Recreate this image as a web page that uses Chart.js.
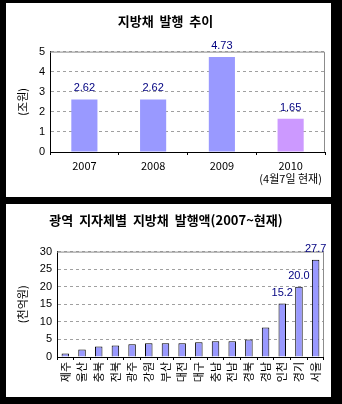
<!DOCTYPE html>
<html>
<head>
<meta charset="utf-8">
<script src="https://cdn.jsdelivr.net/npm/chart.js@4"></script>
<style>
  html, body { margin: 0; padding: 0; background: #000; }
  body { width: 342px; height: 404px; position: relative; overflow: hidden; }
  .panel { position: absolute; background: #fff; }
  #p1 { left: 6px; top: 3px; width: 325px; height: 194px; }
  #p2 { left: 6px; top: 204px; width: 325px; height: 193px; }
</style>
</head>
<body>
<div class="panel" id="p1"><canvas id="c1" width="325" height="194"></canvas></div>
<div class="panel" id="p2"><canvas id="c2" width="325" height="193"></canvas></div>
<script>
// ----- 데이터 -----
const years = ['2007', '2008', '2009', ['2010', '(4월7일 현재)']];
const yearValues = [2.62, 2.62, 4.73, 1.65];
const yearTicks = [0, 1, 2, 3, 4, 5];

const regions = ['제주', '울산', '충북', '전북', '광주', '강원', '부산', '대전',
                 '대구', '충남', '전남', '경북', '경남', '인천', '경기', '서울'];
const regionValues = [1.0, 2.1, 3.0, 3.3, 3.6, 3.9, 3.9, 3.9,
                      4.2, 4.5, 4.5, 5.0, 8.4, 15.2, 20.0, 27.7];
const regionTicks = [0, 5, 10, 15, 20, 25, 30];
const labeledRegions = ['인천', '경기', '서울'];

const FONT = 'Liberation Sans, Arial, "Noto Sans CJK KR", sans-serif';
const KFONT = '"Noto Sans CJK KR", sans-serif';

// 플롯 영역 테두리 (위/오른쪽 회색)
const frame = {
  id: 'frame',
  afterDatasetsDraw(chart) {
    const { ctx, chartArea: a } = chart;
    ctx.save();
    ctx.strokeStyle = '#8c8c8c';
    ctx.lineWidth = 1;
    ctx.beginPath();
    ctx.moveTo(a.left, a.top + 0.5);
    ctx.lineTo(a.right - 0.5, a.top + 0.5);
    ctx.lineTo(a.right - 0.5, a.bottom);
    ctx.stroke();
    ctx.restore();
  }
};

// 막대 위 값 표시
function valueLabels(digits, show) {
  return {
    id: 'valueLabels',
    afterDatasetsDraw(chart) {
      const { ctx } = chart;
      const meta = chart.getDatasetMeta(0);
      const data = chart.data.datasets[0].data;
      ctx.save();
      ctx.fillStyle = '#000080';
      ctx.font = '11px ' + FONT;
      ctx.textAlign = 'center';
      ctx.textBaseline = 'middle';
      meta.data.forEach((bar, i) => {
        if (!show(i)) return;
        ctx.fillText(data[i].toFixed(digits), bar.x, bar.y - 11);
      });
      ctx.restore();
    }
  };
}

function makeChart(id, opts) {
  return new Chart(document.getElementById(id), {
    type: 'bar',
    data: {
      labels: opts.labels,
      datasets: [{
        data: opts.values,
        backgroundColor: opts.colors,
        borderColor: opts.borderColor,
        borderWidth: opts.borderWidth,
        barPercentage: opts.barPct,
        categoryPercentage: 1
      }]
    },
    options: {
      responsive: false,
      animation: false,
      layout: { padding: { top: 0, right: opts.rightPad, bottom: 0, left: 0 } },
      plugins: {
        legend: { display: false },
        tooltip: { enabled: false },
        title: {
          display: true,
          text: opts.title,
          color: '#000',
          font: { family: KFONT, size: 13, weight: 'bold' },
          padding: opts.titlePad
        }
      },
      scales: {
        x: {
          grid: { offset: true, drawOnChartArea: false, drawTicks: true, tickLength: 3, color: '#000' },
          border: { color: '#000', width: 1 },
          ticks: {
            color: '#000',
            font: { family: opts.xFont, size: 11 },
            padding: opts.xPad,
            minRotation: opts.rot,
            maxRotation: opts.rot,
            autoSkip: false
          },
          afterFit(s) { s.height = opts.xHeight; }
        },
        y: {
          min: 0,
          max: opts.ticks[opts.ticks.length - 1],
          afterBuildTicks(s) { s.ticks = opts.ticks.map(v => ({ value: v })); },
          grid: { color: '#a0a0a0', drawTicks: false },
          border: { color: '#000', width: 1, dash: [3, 3] },
          ticks: { color: '#000', font: { family: FONT, size: 11 }, padding: 5 },
          title: {
            display: true,
            text: opts.yTitle,
            color: '#000',
            font: { family: KFONT, size: 11 },
            padding: { top: opts.yTitleTop, bottom: 0 }
          },
          afterFit(s) { s.width = opts.yWidth; }
        }
      }
    },
    plugins: [frame, valueLabels(opts.digits, opts.show)]
  });
}

makeChart('c1', {
  labels: years,
  values: yearValues,
  colors: yearValues.map((v, i) => i === 3 ? '#cc99ff' : '#9999ff'),
  borderColor: '#9999ff',
  borderWidth: 0,
  barPct: 0.38,
  title: '지방채  발행  추이',
  titlePad: { top: 10, bottom: 23 },
  rightPad: 6,
  xFont: KFONT,
  xPad: 4,
  rot: 0,
  xHeight: 45,
  ticks: yearTicks,
  yTitle: '(조원)',
  yTitleTop: 10,
  yWidth: 44,
  digits: 2,
  show: () => true
});

makeChart('c2', {
  labels: regions,
  values: regionValues,
  colors: '#9999ff',
  borderColor: '#000',
  borderWidth: 1,
  barPct: 0.45,
  title: '광역  지자체별  지방채  발행액(2007~현재)',
  titlePad: { top: 8, bottom: 24 },
  rightPad: 5,
  xFont: KFONT,
  xPad: 2,
  rot: 90,
  xHeight: 40,
  ticks: regionTicks,
  yTitle: '(천억원)',
  yTitleTop: 10,
  yWidth: 51,
  digits: 1,
  show: i => labeledRegions.includes(regions[i])
});
</script>
</body>
</html>
